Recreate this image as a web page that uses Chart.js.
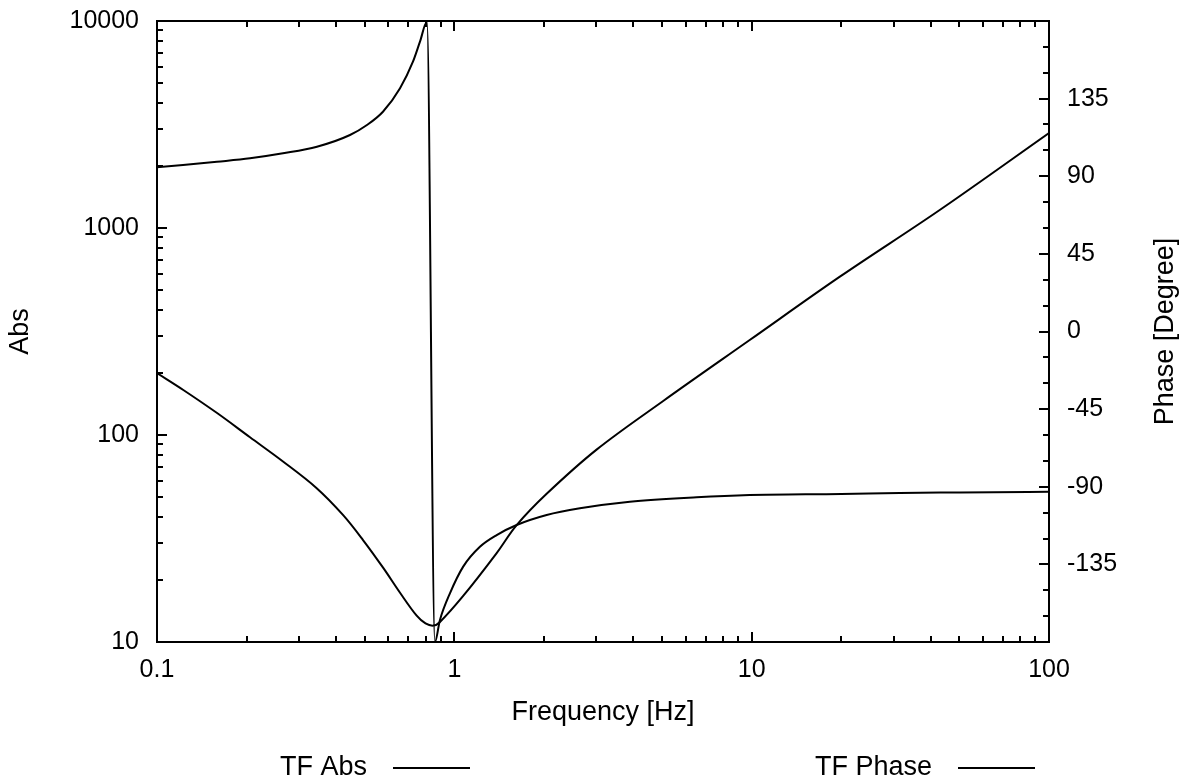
<!DOCTYPE html>
<html>
<head>
<meta charset="utf-8">
<script src="https://cdn.jsdelivr.net/npm/chart.js@4.4.1/dist/chart.umd.min.js"></script>
<style>
  html, body { margin: 0; padding: 0; background: #fff; }
  #wrap { width: 1187px; height: 783px; }
</style>
</head>
<body>
<div id="wrap"><canvas id="c" width="1187" height="783"></canvas></div>
<script>
// ---- data ----
const freqAbs = [0.1, 0.1226, 0.1588, 0.2055, 0.2653, 0.3437, 0.4228, 0.4938, 0.5767, 0.6567, 0.7471, 0.8, 0.85, 0.8946, 1.071, 1.388, 1.62, 2.044, 3.009, 5.04, 9.85, 19.8, 42.9, 100];
const absValues = [199, 165, 128, 97.5, 74.5, 55.5, 41.0, 31.0, 22.8, 17.3, 13.4, 12.3, 12.0, 12.5, 16.7, 26.9, 36.7, 52, 85, 146, 287.6, 582, 1222, 2877];

const freqPhase = [0.1, 0.1223, 0.159, 0.2055, 0.2653, 0.345, 0.4457, 0.5083, 0.5753, 0.6567, 0.7258, 0.7664, 0.809, 0.8604, 0.8946, 0.9665, 1.071, 1.219, 1.388, 1.62, 2.044, 2.644, 3.894, 6.527, 9.847, 20, 31.5, 50, 100];
const phaseValues = [95.2, 96.5, 98.4, 100.4, 103.3, 107.1, 113.9, 119.7, 127.4, 141.0, 156.4, 168.0, 179.5, -180, -167.2, -151.8, -136.3, -124.8, -118.0, -112.2, -106.4, -102.5, -98.7, -96.1, -94.8, -94.2, -93.6, -93.3, -92.9];

const xTickValues = [0.1, 1, 10, 100];
const yTickValues = [10, 100, 1000, 10000];
const y2TickValues = [-135, -90, -45, 0, 45, 90, 135];

const seriesLabels = ['TF Abs', 'TF Phase'];
const xTitle = 'Frequency [Hz]';
const yTitle = 'Abs';
const y2Title = 'Phase [Degree]';

// ---- chart ----
const FONT = '"Liberation Sans", Arial, Helvetica, sans-serif';
Chart.defaults.color = '#000';
Chart.defaults.font.family = FONT;

const toPoints = (xs, ys) => xs.map((x, i) => ({ x: x, y: ys[i] }));

const framePlugin = {
  id: 'frameTicks',
  afterDatasetsDraw(chart) {
    const ctx = chart.ctx;
    const { left, right, top, bottom } = chart.chartArea;
    const xs = chart.scales.x, ys = chart.scales.y, y2s = chart.scales.y2;
    const MAJ = 10, MIN = 6;
    ctx.save();
    ctx.strokeStyle = '#000';
    ctx.lineWidth = 2;
    ctx.strokeRect(left, top, right - left, bottom - top);
    ctx.beginPath();
    [0.1, 1, 10].forEach(d => {
      for (let m = 1; m <= 9; m++) {
        const px = Math.round(xs.getPixelForValue(d * m));
        const len = m === 1 ? MAJ : MIN;
        ctx.moveTo(px, bottom); ctx.lineTo(px, bottom - len);
        ctx.moveTo(px, top); ctx.lineTo(px, top + len);
      }
    });
    [10, 100, 1000].forEach(d => {
      for (let m = 1; m <= 9; m++) {
        const py = Math.round(ys.getPixelForValue(d * m));
        const len = m === 1 ? MAJ : MIN;
        ctx.moveTo(left, py); ctx.lineTo(left + len, py);
      }
    });
    for (let v = -180; v <= 180; v += 15) {
      const py = Math.round(y2s.getPixelForValue(v));
      const len = v % 45 === 0 ? MAJ : MIN;
      ctx.moveTo(right, py); ctx.lineTo(right - len, py);
    }
    ctx.stroke();

    ctx.fillStyle = '#000';
    ctx.font = '27px ' + FONT;
    ctx.textAlign = 'center';
    ctx.textBaseline = 'middle';
    ctx.save();
    ctx.translate(1166, (top + bottom) / 2);
    ctx.rotate(-Math.PI / 2);
    ctx.fillText(y2Title, 0, 0);
    ctx.restore();

    const items = [
      { label: chart.data.datasets[0].label, textRight: 367, lineStart: 393 },
      { label: chart.data.datasets[1].label, textRight: 932, lineStart: 958 }
    ];
    const ly = 768;
    items.forEach(it => {
      ctx.textAlign = 'right';
      ctx.textBaseline = 'middle';
      ctx.fillText(it.label, it.textRight, ly);
      ctx.beginPath();
      ctx.lineWidth = 2;
      ctx.moveTo(it.lineStart, ly);
      ctx.lineTo(it.lineStart + 77, ly);
      ctx.stroke();
    });
    ctx.restore();
  }
};

const noPad = s => { s.paddingTop = 0; s.paddingBottom = 0; s.paddingLeft = 0; s.paddingRight = 0; };

new Chart(document.getElementById('c'), {
  type: 'line',
  data: {
    datasets: [
      {
        label: seriesLabels[0],
        data: toPoints(freqAbs, absValues),
        yAxisID: 'y',
        borderColor: '#000',
        borderWidth: 2,
        pointRadius: 0,
        tension: 0.35,
        fill: false
      },
      {
        label: seriesLabels[1],
        data: toPoints(freqPhase, phaseValues),
        yAxisID: 'y2',
        borderColor: '#000',
        borderWidth: 2,
        pointRadius: 0,
        cubicInterpolationMode: 'monotone',
        fill: false
      }
    ]
  },
  options: {
    responsive: false,
    animation: false,
    events: [],
    layout: { padding: { top: 21, left: 0, right: 0, bottom: 0 } },
    plugins: {
      legend: { display: false },
      tooltip: { enabled: false },
      title: { display: false }
    },
    scales: {
      x: {
        type: 'logarithmic',
        position: 'bottom',
        min: 0.1,
        max: 100,
        grid: { display: false, drawTicks: false },
        border: { display: false },
        afterBuildTicks: s => { s.ticks = xTickValues.map(v => ({ value: v, major: true })); },
        afterFit: s => { s.height = 141; noPad(s); },
        ticks: {
          autoSkip: false,
          maxRotation: 0,
          padding: 13,
          font: { size: 25, family: FONT },
          callback: v => String(v)
        },
        title: {
          display: true,
          text: xTitle,
          font: { size: 27, family: FONT },
          padding: { top: 0, bottom: 54 }
        }
      },
      y: {
        type: 'logarithmic',
        position: 'left',
        min: 10,
        max: 10000,
        grid: { display: false, drawTicks: false },
        border: { display: false },
        afterBuildTicks: s => { s.ticks = yTickValues.map(v => ({ value: v, major: true })); },
        afterFit: s => { s.width = 157; noPad(s); },
        ticks: {
          autoSkip: false,
          padding: 18,
          font: { size: 25, family: FONT },
          callback: v => String(v)
        },
        title: {
          display: true,
          text: yTitle,
          font: { size: 27, family: FONT },
          padding: { top: 4, bottom: 0 }
        }
      },
      y2: {
        type: 'linear',
        position: 'right',
        min: -180,
        max: 180,
        grid: { display: false, drawTicks: false },
        border: { display: false },
        afterBuildTicks: s => { s.ticks = y2TickValues.map(v => ({ value: v })); },
        afterFit: s => { s.width = 138; noPad(s); },
        ticks: {
          autoSkip: false,
          padding: 18,
          font: { size: 25, family: FONT },
          callback: v => String(v)
        },
        title: { display: false }
      }
    }
  },
  plugins: [framePlugin]
});
</script>
</body>
</html>
